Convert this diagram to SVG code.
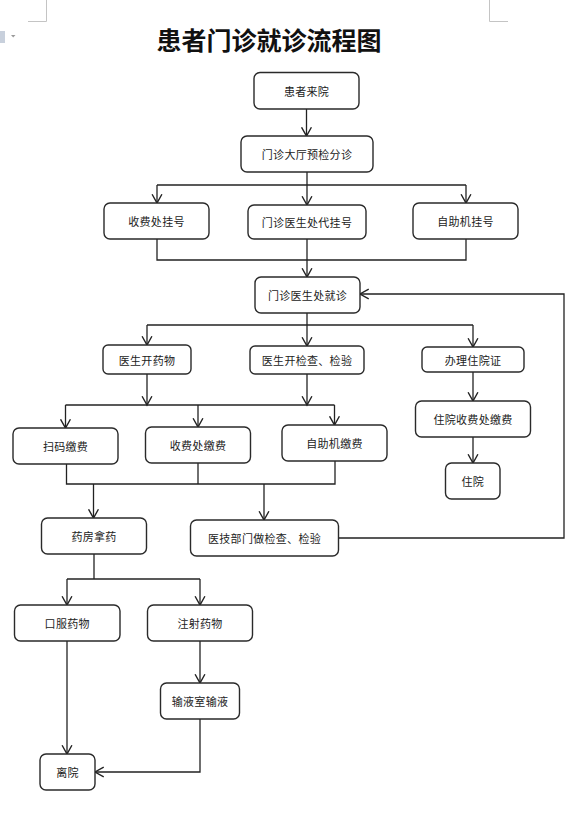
<svg xmlns="http://www.w3.org/2000/svg" width="586" height="818" viewBox="0 0 586 818">
<style>
.n rect{fill:#fff;stroke:#2a2a2a;stroke-width:1.4}
.n text{font-family:"Noto Sans CJK SC","Liberation Sans",sans-serif;font-size:11px;fill:#222;text-anchor:middle;dominant-baseline:central;letter-spacing:0.3px}
#connectors path{fill:none;stroke:#222;stroke-width:1.3}
.a{marker-end:url(#arr)}
</style>
<defs>
<marker id="arr" markerUnits="userSpaceOnUse" markerWidth="12" markerHeight="12" refX="8" refY="4.5" orient="auto" viewBox="-1 -1 11 11">
<path d="M0,0 L8,4.5 L0,9" fill="none" stroke="#222" stroke-width="1.3"/>
</marker>
</defs>
<rect width="586" height="818" fill="#fff"/>
<g id="page-marks" fill="none" stroke="#c4c4c4" stroke-width="1">
<path d="M46.5,0 V21.5 H28"/>
<path d="M489.5,0 V21.5 H508"/>
</g>
<g id="ui-icon">
<rect x="0" y="31" width="5" height="12" fill="#c8d0dc"/>
<path d="M11,35 H15.5 L13.2,37.5 Z" fill="#9a9a9a"/>
</g>
<text id="title" x="269" y="38.5" font-family="'Noto Sans CJK SC',sans-serif" font-size="25" font-weight="bold" fill="#111" text-anchor="middle" dominant-baseline="central">患者门诊就诊流程图</text>
<g id="connectors">
<path class="a" d="M306.5,109 V136"/>
<path class="a" d="M307,172 V205"/>
<path d="M157,185 H466"/>
<path class="a" d="M157,185 V203"/>
<path class="a" d="M466,185 V203"/>
<path d="M157,239 V260 H466 V239"/>
<path class="a" d="M307,239 V277"/>
<path class="a" d="M338.5,538 H564 V294 H360"/>
<path class="a" d="M307,313 V346"/>
<path d="M147,325 H473"/>
<path class="a" d="M147,325 V345"/>
<path class="a" d="M473,325 V347"/>
<path class="a" d="M147,374 V405"/>
<path class="a" d="M307,374 V405"/>
<path d="M65.5,405 H334.5"/>
<path class="a" d="M65.5,405 V428"/>
<path class="a" d="M198,405 V427"/>
<path class="a" d="M334.5,405 V425"/>
<path class="a" d="M473,372 V401"/>
<path class="a" d="M473,437 V463"/>
<path d="M66.5,464 V484 H335 V461"/>
<path d="M198,463 V484"/>
<path class="a" d="M93.5,484 V518"/>
<path class="a" d="M264,484 V520"/>
<path d="M94,554 V579"/>
<path d="M67,579 H200"/>
<path class="a" d="M67,579 V605"/>
<path class="a" d="M200,579 V605"/>
<path class="a" d="M200,641 V683"/>
<path class="a" d="M67,641 V754"/>
<path class="a" d="M200,719 V772 H95"/>
</g>
<g id="n1" class="n"><rect x="254" y="72.5" width="105" height="36.5" rx="6"/><text x="306.5" y="91">患者来院</text></g>
<g id="n2" class="n"><rect x="241" y="136" width="132" height="36" rx="6"/><text x="307" y="154">门诊大厅预检分诊</text></g>
<g id="n3" class="n"><rect x="104" y="203" width="105" height="36" rx="6"/><text x="156.5" y="221">收费处挂号</text></g>
<g id="n4" class="n"><rect x="248" y="205" width="118" height="34" rx="6"/><text x="307" y="222">门诊医生处代挂号</text></g>
<g id="n5" class="n"><rect x="413" y="203" width="105" height="36" rx="6"/><text x="465.5" y="221">自助机挂号</text></g>
<g id="n6" class="n"><rect x="255" y="277" width="105" height="36" rx="6"/><text x="307.5" y="295">门诊医生处就诊</text></g>
<g id="n7" class="n"><rect x="103" y="345" width="88" height="29" rx="5"/><text x="147" y="359.5">医生开药物</text></g>
<g id="n8" class="n"><rect x="250" y="346" width="114" height="28" rx="5"/><text x="307" y="360">医生开检查、检验</text></g>
<g id="n9" class="n"><rect x="422" y="347" width="102" height="25" rx="5"/><text x="473" y="359.5">办理住院证</text></g>
<g id="n10" class="n"><rect x="415.5" y="401" width="115" height="36" rx="6"/><text x="473" y="419">住院收费处缴费</text></g>
<g id="n11" class="n"><rect x="445.5" y="463" width="54.5" height="36" rx="6"/><text x="472.7" y="481">住院</text></g>
<g id="n12" class="n"><rect x="13" y="428" width="105" height="36" rx="6"/><text x="65.5" y="446">扫码缴费</text></g>
<g id="n13" class="n"><rect x="145.5" y="427" width="105" height="36" rx="6"/><text x="198" y="445">收费处缴费</text></g>
<g id="n14" class="n"><rect x="282" y="425" width="105" height="36" rx="6"/><text x="334.5" y="443">自助机缴费</text></g>
<g id="n15" class="n"><rect x="41.5" y="518" width="105" height="36" rx="6"/><text x="94" y="536">药房拿药</text></g>
<g id="n16" class="n"><rect x="190.5" y="520" width="148" height="36" rx="6"/><text x="264.5" y="538">医技部门做检查、检验</text></g>
<g id="n17" class="n"><rect x="14.5" y="605" width="105.5" height="36" rx="6"/><text x="67.2" y="623">口服药物</text></g>
<g id="n18" class="n"><rect x="147.5" y="605" width="105" height="36" rx="6"/><text x="200" y="623">注射药物</text></g>
<g id="n19" class="n"><rect x="160.5" y="683" width="79" height="36" rx="6"/><text x="200" y="701">输液室输液</text></g>
<g id="n20" class="n"><rect x="40" y="754" width="55" height="36" rx="6"/><text x="67.5" y="772">离院</text></g>
</svg>
